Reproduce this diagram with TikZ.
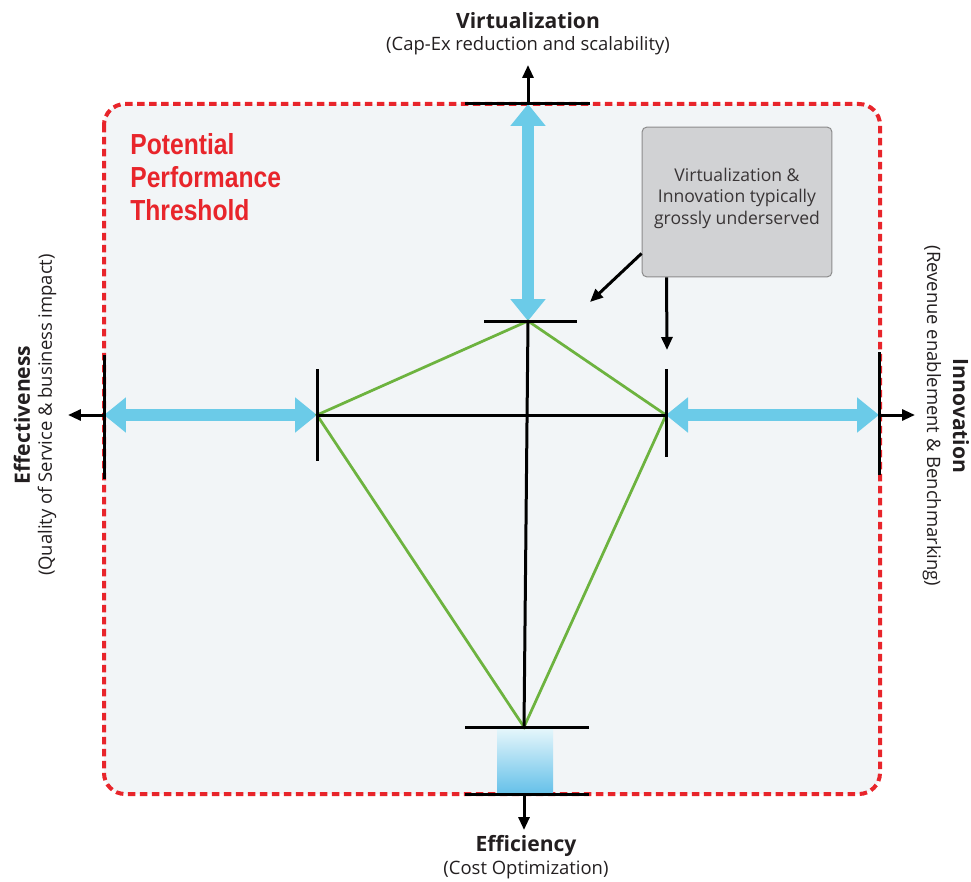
\documentclass[tikz,border=0pt]{standalone}
\usepackage{fontspec}
\setmainfont{Open Sans}
\newfontfamily\condfont[FakeStretch=0.85]{Liberation Sans}
\usetikzlibrary{arrows.meta}
\definecolor{threshred}{HTML}{E8252B}
\definecolor{panelbg}{HTML}{F2F5F7}
\definecolor{flowblue}{HTML}{6BCBE8}
\definecolor{linkgreen}{HTML}{6DB33F}
\definecolor{notegray}{HTML}{D1D2D4}
\definecolor{noteedge}{HTML}{8C8C8C}
\definecolor{labeltext}{HTML}{231F20}

\begin{document}
\begin{tikzpicture}[x=0.02cm,y=-0.02cm,
  tick/.style={line width=0.06cm},
  axis/.style={line width=0.06cm,-{Triangle[width=0.22cm,length=0.26cm]}},
  flow/.style={flowblue,line width=0.24cm,
    {Triangle[width=0.68cm,length=0.44cm]}-{Triangle[width=0.68cm,length=0.44cm]}},
  link/.style={linkgreen,line width=0.055cm},
  title/.style={font=\fontsize{12}{14}\selectfont\bfseries,text=labeltext},
  subtitle/.style={font=\fontsize{10.5}{13}\selectfont,text=labeltext}]
  \useasboundingbox (0,0) rectangle (971,882);
  \draw[threshred,line width=0.08cm,dash pattern=on 0.15cm off 0.09cm,
    fill=panelbg,rounded corners=0.42cm] (104,104) rectangle (880,794);

  \node (threshold) [anchor=north west,align=left,inner sep=0pt,text=threshred,
    font=\condfont\bfseries\fontsize{16.5}{18.8}\selectfont] at (130,133)
    {Potential\\Performance\\Threshold};

  \coordinate (top) at (528,321);
  \coordinate (left) at (317,415);
  \coordinate (right) at (666,415);
  \coordinate (bottom) at (524,727);
  \coordinate (topedge) at (528,104);
  \coordinate (leftedge) at (104,415);
  \coordinate (rightedge) at (879,415);
  \coordinate (bottomedge) at (524,794);
  \coordinate (topend) at (528,65);
  \coordinate (leftend) at (68,415);
  \coordinate (rightend) at (915,415);
  \coordinate (bottomend) at (524,830);

  \shade[top color=flowblue!18,bottom color=flowblue!95!blue] (497,729) rectangle (553,793);
  \draw[flow] (topedge) -- (top);
  \draw[flow] (leftedge) -- (left);
  \draw[flow] (right) -- (rightedge);

  \draw[link] (top) -- (left) -- (bottom) -- (right) -- cycle;
  \draw[tick] (left) -- (right);
  \draw[tick] (top) -- (bottom);

  \draw[tick] (topedge) ++(-63,0) -- ++(125,0);
  \draw[tick] (top) ++(-44,0) -- ++(93,0);
  \draw[tick] (left) ++(0,-46) -- ++(0,92);
  \draw[tick] (right) ++(0,-46) -- ++(0,88);
  \draw[tick] (leftedge) ++(0,-60) -- ++(0,124);
  \draw[tick] (rightedge) ++(0,-63) -- ++(0,123);
  \draw[tick] (bottom) ++(-59,0) -- ++(124,0);
  \draw[tick] (bottomedge) ++(-59,0) -- ++(124,0);

  \draw[axis] (topedge) -- (topend);
  \draw[axis] (leftedge) -- (leftend);
  \draw[axis] (rightedge) -- (rightend);
  \draw[axis] (bottomedge) -- (bottomend);

  \node (note) [draw=noteedge,line width=0.02cm,fill=notegray,rounded corners=0.1cm,
    minimum width=3.8cm,minimum height=3cm,align=center,text=labeltext!90,
    text depth=6.7pt,font=\fontsize{10}{12.2}\selectfont] at (737,202)
    {Virtualization \&\\Innovation typically\\grossly underserved};
  \coordinate (notetip) at (590,302);
  \coordinate (notedrop) at (667,350);
  \draw[axis] ([yshift=0.48cm]note.south west) -- (notetip);
  \draw[axis] ([xshift=0.5cm]note.south west) -- (notedrop);

  \node (virt) [title] at (528,21) {Virtualization};
  \node (capex) [subtitle] at (528,46) {(Cap-Ex reduction and scalability)};
  \node (effic) [title] at (526,846) {Efficiency};
  \node (cost) [subtitle] at (526,870) {(Cost Optimization)};
  \node (effect) [title,rotate=90] at (22,415) {Effectiveness};
  \node (qos) [subtitle,rotate=90] at (47,415) {(Quality of Service \& business impact)};
  \node (innov) [title,rotate=-90] at (961,416) {Innovation};
  \node (revenue) [subtitle,rotate=-90] at (932,416) {(Revenue enablement \& Benchmarking)};
\end{tikzpicture}
\end{document}
